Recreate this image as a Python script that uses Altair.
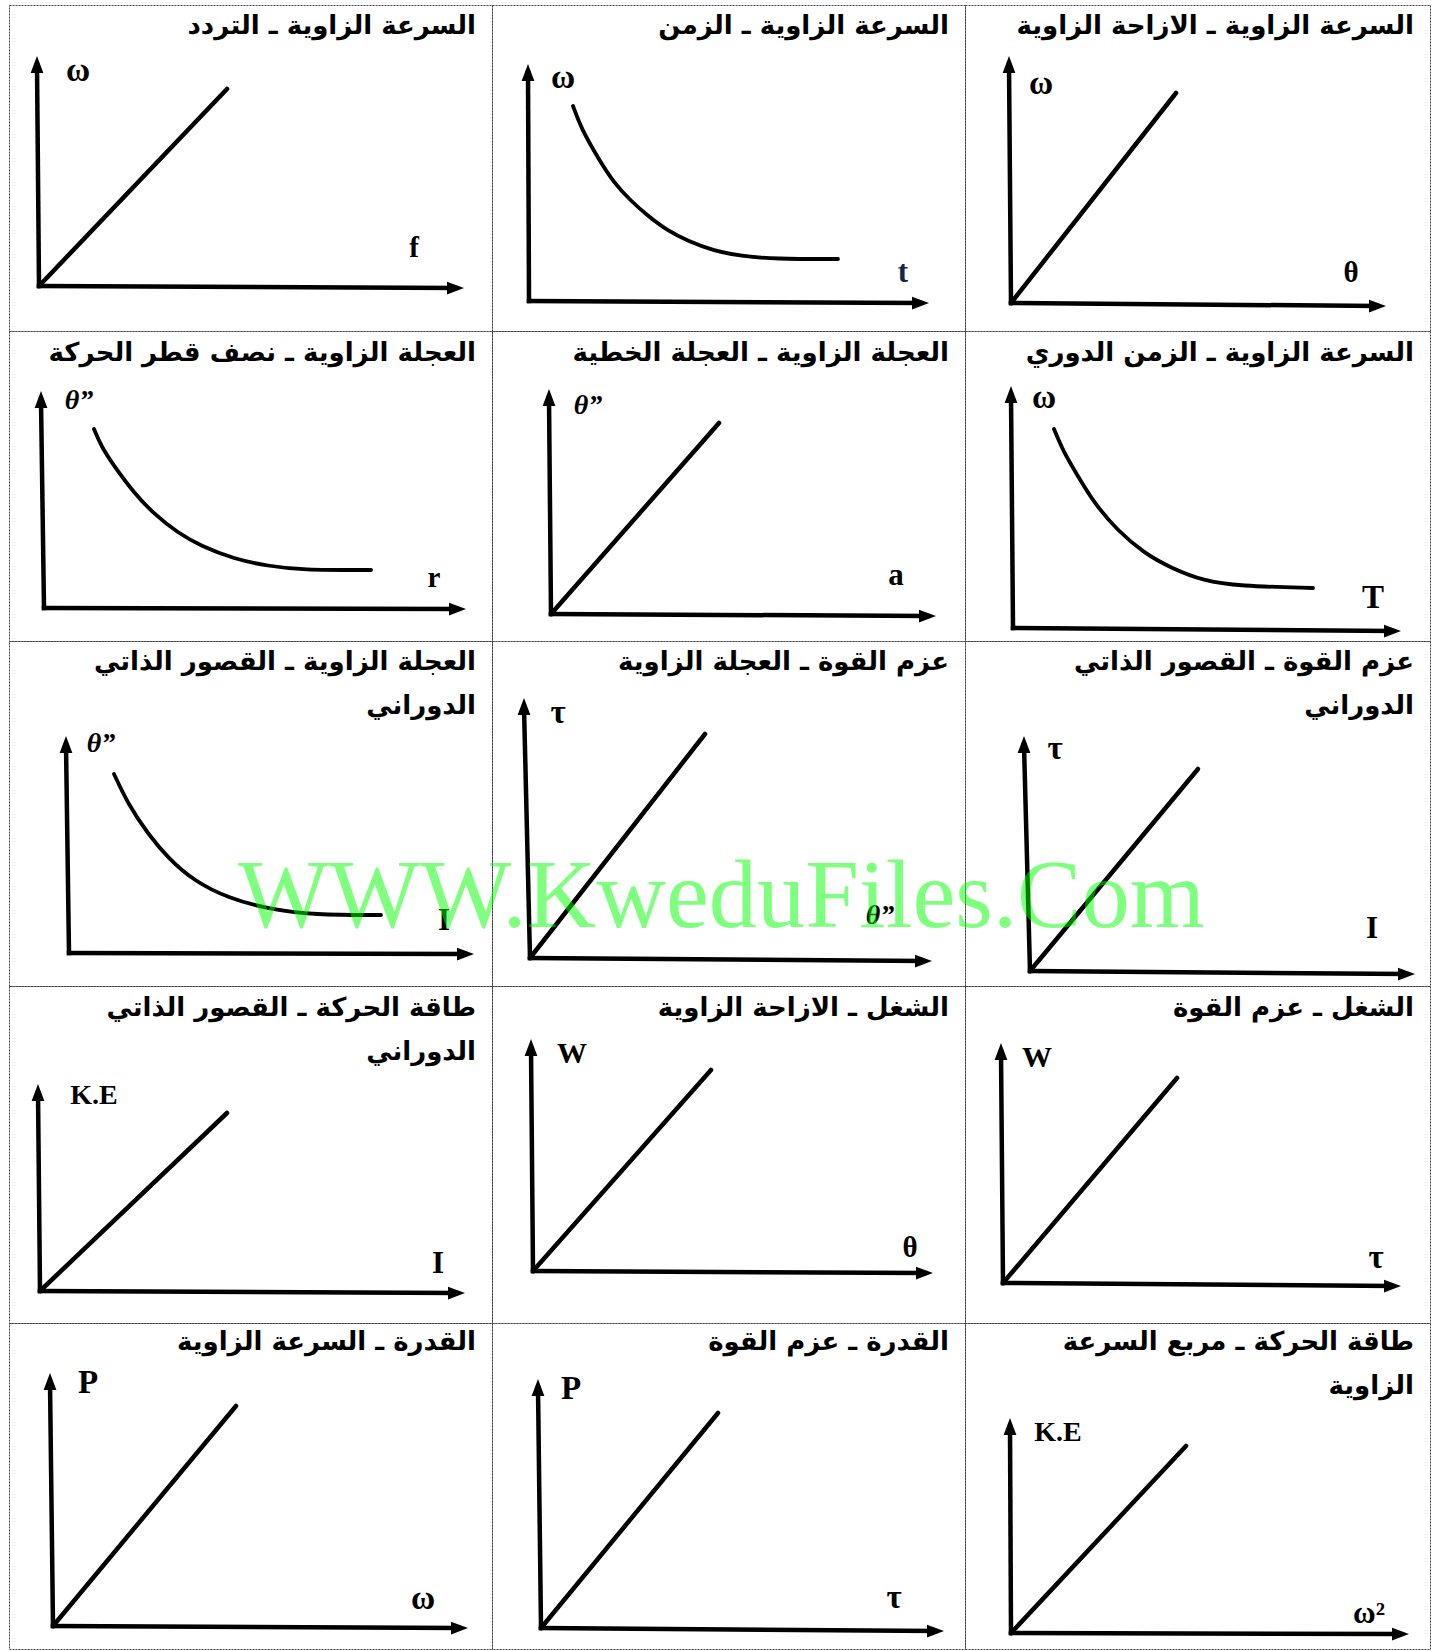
import altair as alt
import pandas as pd

# Grid geometry (px): three columns, five rows of sketch graphs
COL_WIDTHS = [483, 473, 465]
ROW_HEIGHTS = [326, 310, 345, 337, 326]

# Panels are listed row by row, left to right
TITLES = [
    "السرعة الزاوية ـ التردد",
    "السرعة الزاوية ـ الزمن",
    "السرعة الزاوية ـ الازاحة الزاوية",
    "العجلة الزاوية ـ نصف قطر الحركة",
    "العجلة الزاوية ـ العجلة الخطية",
    "السرعة الزاوية ـ الزمن الدوري",
    "العجلة الزاوية ـ القصور الذاتي\nالدوراني",
    "عزم القوة ـ العجلة الزاوية",
    "عزم القوة ـ القصور الذاتي\nالدوراني",
    "طاقة الحركة ـ القصور الذاتي\nالدوراني",
    "الشغل ـ الازاحة الزاوية",
    "الشغل ـ عزم القوة",
    "القدرة ـ السرعة الزاوية",
    "القدرة ـ عزم القوة",
    "طاقة الحركة ـ مربع السرعة\nالزاوية",
]
Y_LABELS = ["ω", "ω", "ω", "θ”", "θ”", "ω", "θ”", "τ", "τ", "K.E", "W", "W", "P", "P", "K.E"]
X_LABELS = ["f", "t", "θ", "r", "a", "T", "I", "θ”", "I", "I", "θ", "τ", "ω", "τ", "ω²"]

# Graph origin inside each panel (from the panel's top-left corner)
ORIGINS = [
    (30, 281), (37, 296), (46, 298),
    (35, 277), (59, 283), (48, 297),
    (60, 312), (38, 317), (65, 330),
    (31, 305), (41, 285), (38, 297),
    (44, 303), (49, 305), (46, 310),
]
# Axis lengths from the origin to the arrow tips, and the slight skew of each axis
X_LEN = [425, 400, 375, 422, 385, 388, 405, 402, 385, 425, 400, 398, 415, 403, 398]
Y_LEN = [230, 237, 247, 217, 225, 242, 217, 260, 235, 207, 232, 240, 253, 249, 215]
X_TILT = [-2, -2, -3, -1, -2, -3, -1, -3, -3, -2, -2, -3, -2, -3, -1]
Y_TILT = [-2, -1, -2, -3, -2, -2, -3, -6, -6, -2, -2, -2, -3, -3, -1]

# Straight proportional graphs: end point of the line (origin is the start)
LINE_ENDS = {
    0: (188, 197), 2: (165, 210), 4: (168, 191),
    7: (175, 224), 8: (168, 202),
    9: (187, 178), 10: (178, 201), 11: (174, 205),
    12: (183, 220), 13: (177, 215), 14: (175, 187),
}
# Inverse-type graphs: sampled points along each falling curve
CURVES = {
    1: [(44, 195), (52, 173), (69, 143), (85, 118), (102, 100), (119, 85), (139, 70),
        (159, 60), (185, 50), (212, 45), (245, 42), (309, 42)],
    3: [(50, 179), (57, 162), (70, 142), (90, 115), (110, 94), (134, 75), (157, 62),
        (190, 49), (224, 42), (257, 38), (327, 38)],
    5: [(41, 199), (51, 175), (65, 152), (81, 125), (105, 97), (131, 75), (158, 60),
        (191, 47), (225, 42), (300, 40)],
    6: [(45, 179), (59, 149), (79, 119), (99, 95), (125, 72), (159, 55), (199, 44),
        (245, 38), (312, 38)],
}

# Axis-letter positions relative to the graph origin
Y_LABEL_POS = [(39, 215), (34, 223), (30, 219), (35, 207), (37, 208), (31, 230), (32, 209),
               (28, 245), (25, 222), (54, 195), (39, 217), (34, 225), (35, 243), (30, 239), (47, 200)]
X_LABEL_POS = [(375, 38), (374, 28), (340, 30), (390, 30), (345, 38), (360, 30), (375, 32),
               (350, 42), (342, 42), (398, 27), (377, 23), (373, 25), (370, 27), (353, 30), (358, 19)]
LABEL_SIZES = {"ω": 33, "θ”": 28, "τ": 33, "K.E": 28, "W": 30, "P": 33, "f": 29, "t": 31,
               "θ": 29, "r": 29, "a": 31, "T": 33, "I": 31, "ω²": 31}

TITLE_BASELINE = [29, 30, 29, 30, 27]
TITLE_SIZE = 26

WATERMARK = "WWW.KweduFiles.Com"
WATERMARK_PANEL = 8
WATERMARK_POS = (-792, 44)

ARROW = "M0,0 L0.75,2 L-0.75,2 Z"


def build_panel(i):
    r, c = divmod(i, 3)
    W, H = COL_WIDTHS[c], ROW_HEIGHTS[r]
    ox, oy = ORIGINS[i]
    xs = alt.Scale(domain=[-ox, W - ox], nice=False, zero=False)
    ys = alt.Scale(domain=[oy - H, oy], nice=False, zero=False)
    X = alt.X("x:Q", scale=xs, axis=None)
    Y = alt.Y("y:Q", scale=ys, axis=None)

    xlen, ylen, xt, yt = X_LEN[i], Y_LEN[i], X_TILT[i], Y_TILT[i]

    axes_df = pd.DataFrame({"x": [0, 0], "y": [0, 0],
                            "x2": [xlen - 9, yt], "y2": [xt, ylen - 9]})
    axes = alt.Chart(axes_df).mark_rule(
        color="black", strokeWidth=4.5, strokeCap="square"
    ).encode(x=X, y=Y, x2="x2:Q", y2="y2:Q")

    heads_df = pd.DataFrame({"x": [xlen, yt], "y": [xt, ylen], "angle": [90, 0]})
    heads = alt.Chart(heads_df).mark_point(
        shape=ARROW, filled=True, opacity=1, color="black", size=289, strokeWidth=0
    ).encode(x=X, y=Y, angle=alt.Angle("angle:Q", scale=None))

    if i in LINE_ENDS:
        ex, ey = LINE_ENDS[i]
        g_df = pd.DataFrame({"x": [0, ex], "y": [0, ey], "k": [0, 1]})
        graph = alt.Chart(g_df).mark_line(
            color="black", strokeWidth=4.5, strokeCap="round"
        ).encode(x=X, y=Y, order="k:Q")
    else:
        pts = CURVES[i]
        g_df = pd.DataFrame({"x": [p[0] for p in pts], "y": [p[1] for p in pts],
                             "k": list(range(len(pts)))})
        graph = alt.Chart(g_df).mark_line(
            color="black", strokeWidth=3.8, strokeCap="round", interpolate="basis"
        ).encode(x=X, y=Y, order="k:Q")

    lab_df = pd.DataFrame({
        "x": [Y_LABEL_POS[i][0], X_LABEL_POS[i][0]],
        "y": [Y_LABEL_POS[i][1], X_LABEL_POS[i][1]],
        "text": [Y_LABELS[i], X_LABELS[i]],
    })
    lab_df["size"] = lab_df["text"].map(LABEL_SIZES)
    lab_df["italic"] = lab_df["text"] == "θ”"
    lab_df["color"] = ["black", "#14264a" if X_LABELS[i] == "t" else "black"]
    base_lab = alt.Chart(lab_df)
    labels = base_lab.transform_filter("!datum.italic").mark_text(
        font="Liberation Serif", fontWeight="bold", align="center", baseline="middle"
    ).encode(x=X, y=Y, text="text:N", size=alt.Size("size:Q", scale=None),
             color=alt.Color("color:N", scale=None))
    labels_it = base_lab.transform_filter("datum.italic").mark_text(
        font="Liberation Serif", fontWeight="bold", fontStyle="italic",
        align="center", baseline="middle"
    ).encode(x=X, y=Y, text="text:N", size=alt.Size("size:Q", scale=None))

    t_df = pd.DataFrame({"x": [W - ox - 16], "y": [oy - TITLE_BASELINE[r]],
                         "text": [TITLES[i]]})
    title = alt.Chart(t_df).mark_text(
        font="DejaVu Sans", fontWeight="bold", fontSize=TITLE_SIZE, color="black",
        align="right", baseline="alphabetic", lineBreak="\n", lineHeight=44
    ).encode(x=X, y=Y, text="text:N")

    layers = [axes, heads, graph, labels, labels_it, title]
    if i == WATERMARK_PANEL:
        # painted by the last panel of its row so it lies over the whole row
        w_df = pd.DataFrame({"x": [WATERMARK_POS[0]], "y": [WATERMARK_POS[1]],
                             "text": [WATERMARK]})
        layers.append(alt.Chart(w_df).mark_text(
            font="Liberation Serif", fontSize=96.5, color="#00ff00", opacity=0.5,
            align="left", baseline="alphabetic"
        ).encode(x=X, y=Y, text="text:N"))

    return alt.layer(*layers).properties(width=W, height=H)


cells = [build_panel(i) for i in range(15)]

chart = alt.concat(*cells, columns=3, spacing=0, bounds="flush").configure_view(
    stroke="#444444", strokeDash=[2, 1], strokeWidth=1
).properties(
    padding={"left": 8, "top": 4, "right": 5, "bottom": 3},
    background="white",
)

chart.save("out.html", embed_options={"renderer": "svg", "actions": False})
